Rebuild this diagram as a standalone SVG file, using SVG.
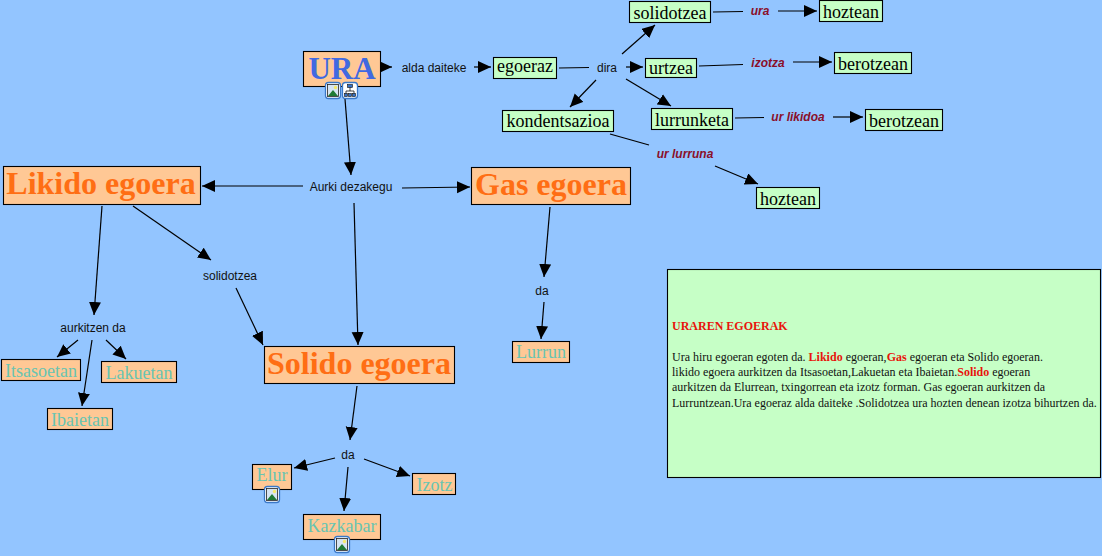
<svg xmlns="http://www.w3.org/2000/svg" width="1102" height="556" viewBox="0 0 1102 556">
<style>
.n{stroke:#000;stroke-width:1.1}
.o{fill:#ffc895}
.g{fill:#c6ffc6}
.s{font-family:"Liberation Serif",serif;text-anchor:middle}
.big{font-size:32px;font-weight:bold;fill:#ff6e14}
.t{font-size:18px;fill:#000}
.c{font-size:18px;fill:#68c4b2}
.l{font-family:"Liberation Sans",sans-serif;font-size:12px;fill:#111;text-anchor:middle}
.r{font-family:"Liberation Sans",sans-serif;font-size:12px;font-weight:bold;font-style:italic;fill:#8a0f2a;text-anchor:middle}
.p{font-family:"Liberation Serif",serif;font-size:12px;fill:#111}
.b{font-weight:bold;fill:#e8140c}
#c line{stroke:#000;stroke-width:1.2}
#c line.a{marker-end:url(#ah)}
</style>
<defs>
<marker id="ah" markerUnits="userSpaceOnUse" markerWidth="14" markerHeight="13" refX="13" refY="6" orient="auto"><path d="M0 0L13 6L0 12Z" fill="#000"/></marker>
<g id="pic"><rect x="0.5" y="0.5" width="15" height="16" rx="3" fill="#fff" stroke="#3a78c8" stroke-width="1.3"/><rect x="2.5" y="2.5" width="11" height="12" fill="#d6e4f2" stroke="#222" stroke-width="0.8"/><path d="M3 14L8 8L13 14Z" fill="#1f7a35"/><circle cx="10.5" cy="5.5" r="1.7" fill="#f5e96a"/></g>
<g id="map"><rect x="0.5" y="0.5" width="15" height="16" rx="3" fill="#fff" stroke="#3a78c8" stroke-width="1.3"/><path d="M8 5V9M4 12V9H12V12" fill="none" stroke="#111" stroke-width="0.8"/><rect x="5.5" y="2.5" width="5" height="3" fill="#346fc4" stroke="#111" stroke-width="0.6"/><rect x="2.5" y="11.5" width="3" height="3" fill="#346fc4" stroke="#111" stroke-width="0.6"/><rect x="6.5" y="11.5" width="3" height="3" fill="#346fc4" stroke="#111" stroke-width="0.6"/><rect x="10.5" y="11.5" width="3" height="3" fill="#346fc4" stroke="#111" stroke-width="0.6"/></g>
</defs>
<rect width="1102" height="556" fill="#93c5ff"/>
<g id="c">
<line class="a" x1="380" y1="67" x2="392" y2="67"/>
<line class="a" x1="474" y1="67" x2="491" y2="67"/>
<line x1="559" y1="68" x2="589" y2="67.5"/>
<line class="a" x1="622" y1="54" x2="655" y2="25"/>
<line class="a" x1="626" y1="67" x2="643" y2="67"/>
<line class="a" x1="626" y1="79" x2="671" y2="106"/>
<line class="a" x1="596" y1="80" x2="570" y2="107"/>
<line x1="713" y1="12" x2="743" y2="11.5"/>
<line class="a" x1="778" y1="11" x2="817" y2="11"/>
<line x1="699" y1="66" x2="743" y2="64.5"/>
<line class="a" x1="793" y1="62" x2="832" y2="62"/>
<line x1="735" y1="118" x2="764" y2="117.5"/>
<line class="a" x1="833" y1="117" x2="863" y2="117"/>
<line x1="610" y1="134" x2="649" y2="145"/>
<line class="a" x1="715" y1="166" x2="758" y2="184"/>
<line class="a" x1="345" y1="99" x2="351" y2="175"/>
<line class="a" x1="303" y1="186" x2="202" y2="186"/>
<line class="a" x1="402" y1="188" x2="470" y2="187"/>
<line class="a" x1="354" y1="203" x2="358" y2="345"/>
<line class="a" x1="102" y1="206" x2="94" y2="315"/>
<line class="a" x1="133" y1="206" x2="211" y2="260"/>
<line class="a" x1="236" y1="288" x2="263" y2="345"/>
<line class="a" x1="78" y1="340" x2="57" y2="357"/>
<line class="a" x1="106" y1="340" x2="126" y2="359"/>
<line class="a" x1="92" y1="340" x2="82" y2="406"/>
<line class="a" x1="550" y1="207" x2="544" y2="277"/>
<line class="a" x1="544" y1="302" x2="541" y2="339"/>
<line class="a" x1="357" y1="386" x2="350" y2="440"/>
<line class="a" x1="335" y1="458" x2="294" y2="468"/>
<line class="a" x1="364" y1="459" x2="410" y2="476"/>
<line class="a" x1="348" y1="467" x2="344" y2="511"/>
</g>
<g id="ura"><rect class="n o" x="303.5" y="51.5" width="77" height="35"/><text class="s" x="342" y="79" font-size="31" font-weight="bold" fill="#4169e1">URA</text><use href="#pic" x="325" y="82"/><use href="#map" x="342" y="82"/></g>
<g id="l-alda"><text class="l" x="434" y="72">alda daiteke</text></g>
<g id="egoeraz"><rect class="n g" x="493.5" y="57.5" width="63" height="21"/><text class="s t" x="525" y="72">egoeraz</text></g>
<g id="l-dira"><text class="l" x="607" y="72">dira</text></g>
<g id="solidotzea"><rect class="n g" x="629.5" y="1.5" width="81" height="21"/><text class="s t" x="670" y="19">solidotzea</text></g>
<g id="urtzea"><rect class="n g" x="645.5" y="58.5" width="51" height="19"/><text class="s t" x="671" y="74">urtzea</text></g>
<g id="kondentsazioa"><rect class="n g" x="502.5" y="110.5" width="111" height="21"/><text class="s t" x="558" y="127">kondentsazioa</text></g>
<g id="lurrunketa"><rect class="n g" x="651.5" y="108.5" width="81" height="21"/><text class="s t" x="692" y="126">lurrunketa</text></g>
<g id="l-ura"><text class="r" x="760" y="15">ura</text></g>
<g id="l-izotza"><text class="r" x="768" y="67">izotza</text></g>
<g id="l-likidoa"><text class="r" x="798" y="121">ur likidoa</text></g>
<g id="l-lurruna"><text class="r" x="685" y="158">ur lurruna</text></g>
<g id="hoztean1"><rect class="n g" x="819.5" y="0.5" width="63" height="21"/><text class="s t" x="851" y="18">hoztean</text></g>
<g id="berotzean1"><rect class="n g" x="834.5" y="52.5" width="77" height="21"/><text class="s t" x="873" y="70">berotzean</text></g>
<g id="berotzean2"><rect class="n g" x="865.5" y="109.5" width="77" height="21"/><text class="s t" x="904" y="127">berotzean</text></g>
<g id="hoztean2"><rect class="n g" x="756.5" y="187.5" width="63" height="21"/><text class="s t" x="788" y="205">hoztean</text></g>
<g id="l-aurki"><text class="l" x="351" y="191">Aurki dezakegu</text></g>
<g id="likido"><rect class="n o" x="3.5" y="166.5" width="197" height="38"/><text class="s big" x="101" y="194">Likido egoera</text></g>
<g id="gas"><rect class="n o" x="471.5" y="167.5" width="159" height="37"/><text class="s big" x="551" y="195">Gas egoera</text></g>
<g id="solido"><rect class="n o" x="264.5" y="346.5" width="190" height="37"/><text class="s big" x="359" y="374">Solido egoera</text></g>
<g id="l-solidotzea"><text class="l" x="230" y="280">solidotzea</text></g>
<g id="l-aurkitzen"><text class="l" x="93" y="332">aurkitzen da</text></g>
<g id="itsasoetan"><rect class="n o" x="1.5" y="359.5" width="79" height="21"/><text class="s c" x="41" y="377">Itsasoetan</text></g>
<g id="lakuetan"><rect class="n o" x="101.5" y="361.5" width="75" height="21"/><text class="s c" x="139" y="379">Lakuetan</text></g>
<g id="ibaietan"><rect class="n o" x="47.5" y="408.5" width="65" height="21"/><text class="s c" x="80" y="426">Ibaietan</text></g>
<g id="l-da1"><text class="l" x="542" y="295">da</text></g>
<g id="lurrun"><rect class="n o" x="512.5" y="341.5" width="57" height="21"/><text class="s c" x="541" y="358">Lurrun</text></g>
<g id="l-da2"><text class="l" x="348" y="459">da</text></g>
<g id="elur"><rect class="n o" x="252.5" y="464.5" width="39" height="25"/><text class="s c" x="272" y="481">Elur</text><use href="#pic" x="264" y="486"/></g>
<g id="izotz"><rect class="n o" x="412.5" y="473.5" width="43" height="21"/><text class="s c" x="434.5" y="491">Izotz</text></g>
<g id="kazkabar"><rect class="n o" x="303.5" y="514.5" width="77" height="25"/><text class="s c" x="342" y="532">Kazkabar</text><use href="#pic" x="334" y="536"/></g>
<g id="note"><rect class="n g" x="667.5" y="269.5" width="433" height="208"/>
<text class="p b" x="672" y="330">URAREN EGOERAK</text>
<text class="p" x="672" y="361">Ura hiru egoeran egoten da. <tspan class="b">Likido</tspan> egoeran,<tspan class="b">Gas</tspan> egoeran eta Solido egoeran.</text>
<text class="p" x="672" y="376">likido egoera aurkitzen da Itsasoetan,Lakuetan eta Ibaietan.<tspan class="b">Solido</tspan> egoeran</text>
<text class="p" x="672" y="391">aurkitzen da Elurrean, txingorrean eta izotz forman. Gas egoeran aurkitzen da</text>
<text class="p" x="672" y="407">Lurruntzean.Ura egoeraz alda daiteke .Solidotzea ura hozten denean izotza bihurtzen da.</text>
</g>
</svg>
